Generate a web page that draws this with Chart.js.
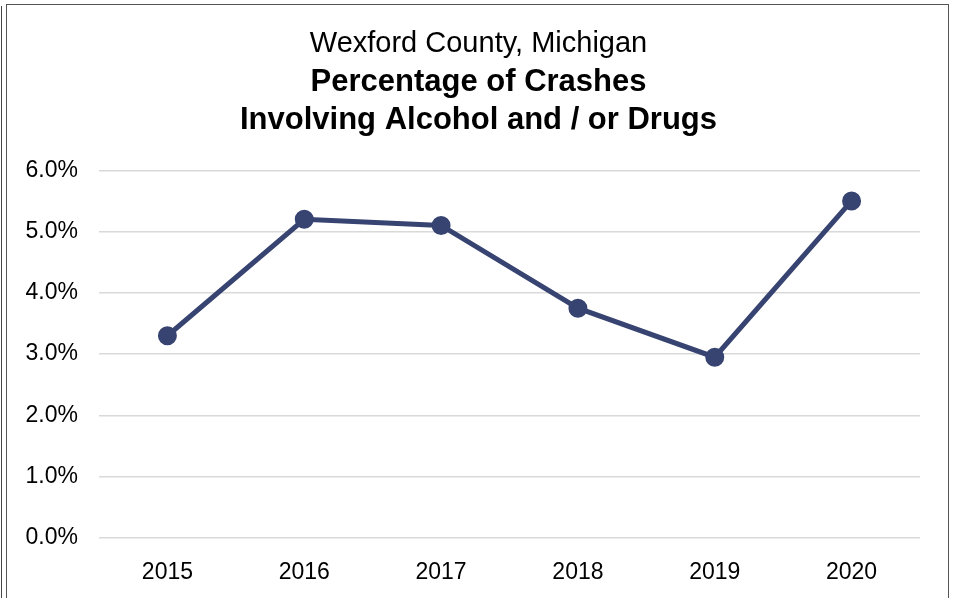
<!DOCTYPE html>
<html lang="en">
<head>
    <meta charset="UTF-8">
    <title>Wexford County Crashes</title>
    <script src="https://cdn.jsdelivr.net/npm/chart.js"></script>
    <style>
        html, body {
            margin: 0;
            padding: 0;
            background: #fff;
        }
        .page {
            position: relative;
            width: 957px;
            height: 598px;
            overflow: hidden;
        }
        .frame {
            position: absolute;
            left: 6px;
            top: 4px;
            width: 941px;
            height: 600px;
            border: 1.5px solid #555;
        }
        .edge {
            position: absolute;
            left: 1px;
            top: 6px;
            width: 0;
            height: 600px;
            border-left: 1.5px solid #444;
        }
        canvas {
            position: absolute;
            left: 0;
            top: 0;
        }
    </style>
</head>
<body>
    <div class="page">
        <div class="edge"></div>
        <div class="frame"></div>
        <canvas id="myChart" width="957" height="598"></canvas>
    </div>

    <script>
        const years = ['2015', '2016', '2017', '2018', '2019', '2020'];
        const percentages = [3.3, 5.2, 5.1, 3.75, 2.95, 5.5];
        const titleLines = ['Wexford County, Michigan'];
        const subtitleLines = ['Percentage of Crashes', 'Involving Alcohol and / or Drugs'];

        const font = 'Arial, "Liberation Sans", sans-serif';

        const ctx = document.getElementById('myChart').getContext('2d');
        new Chart(ctx, {
            type: 'line',
            data: {
                labels: years,
                datasets: [{
                    data: percentages,
                    borderColor: '#374370',
                    backgroundColor: '#374370',
                    borderWidth: 5,
                    pointRadius: 7,
                    pointHoverRadius: 7,
                    tension: 0
                }]
            },
            options: {
                responsive: false,
                animation: false,
                layout: {
                    padding: { top: 27, left: 0, right: 0, bottom: 0 }
                },
                scales: {
                    y: {
                        min: 0,
                        max: 6,
                        ticks: {
                            stepSize: 1,
                            color: '#000',
                            padding: 21,
                            font: { family: font, size: 23 },
                            callback: function(v) { return v.toFixed(1) + '%'; }
                        },
                        grid: {
                            color: '#d9d9d9',
                            lineWidth: 1.5,
                            drawTicks: false
                        },
                        border: { display: false },
                        afterFit: function(s) { s.width = 99; }
                    },
                    // empty right-hand strip so the titles stay centred on the page
                    pad: {
                        type: 'linear',
                        position: 'right',
                        ticks: { display: false },
                        grid: { display: false, drawTicks: false },
                        border: { display: false },
                        afterFit: function(s) { s.width = 37; }
                    },
                    x: {
                        offset: true,
                        ticks: {
                            color: '#000',
                            padding: 21,
                            font: { family: font, size: 23 }
                        },
                        grid: { display: false, drawTicks: false },
                        border: { display: false },
                        afterFit: function(s) { s.height = 60; }
                    }
                },
                plugins: {
                    legend: { display: false },
                    tooltip: { enabled: false },
                    title: {
                        display: true,
                        text: titleLines,
                        color: '#000',
                        font: { family: font, size: 29, weight: 'normal', lineHeight: 1.2 },
                        padding: { top: 0, bottom: 1.5 }
                    },
                    subtitle: {
                        display: true,
                        text: subtitleLines,
                        color: '#000',
                        font: { family: font, size: 31, weight: 'bold', lineHeight: 1.226 },
                        padding: { top: 0, bottom: 31 }
                    }
                }
            }
        });
    </script>
</body>
</html>
